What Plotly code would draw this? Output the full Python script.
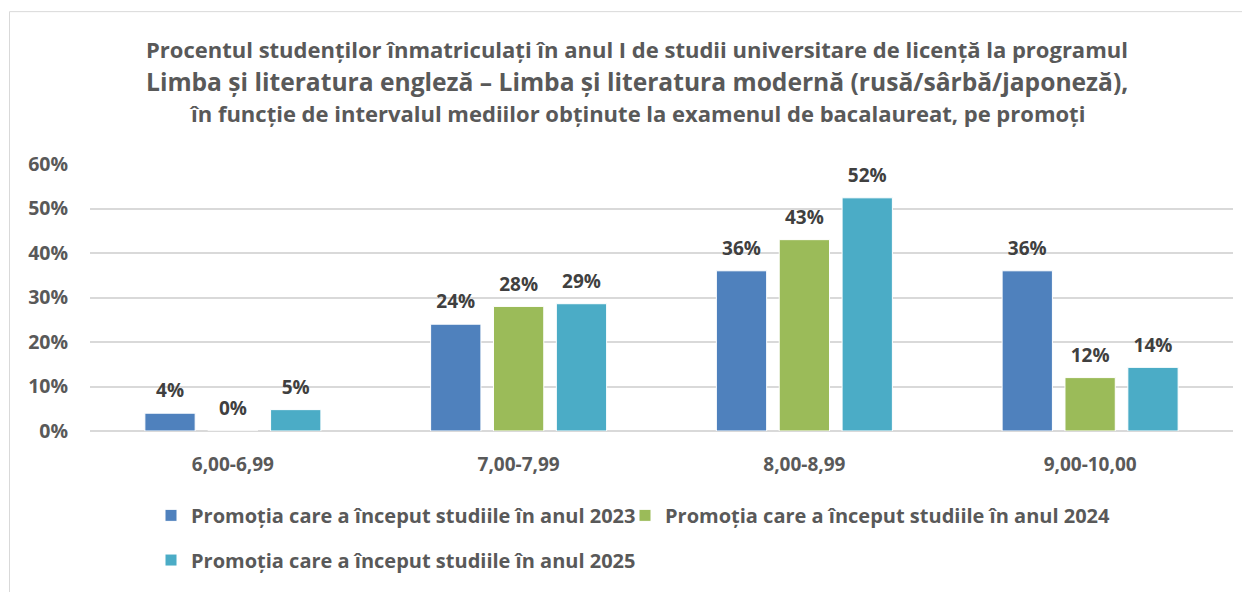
import plotly.graph_objects as go

categories = ["6,00-6,99", "7,00-7,99", "8,00-8,99", "9,00-10,00"]
series_names = [
    "Promoția care a început studiile în anul 2023",
    "Promoția care a început studiile în anul 2024",
    "Promoția care a început studiile în anul 2025",
]
values_2023 = [0.04, 0.24, 0.36, 0.36]
values_2024 = [0.00, 0.28, 0.43, 0.12]
values_2025 = [0.048, 0.286, 0.524, 0.143]
colors = ["#4F81BD", "#9BBB59", "#4BACC6"]
title_lines = [
    "Procentul studenților înmatriculați în anul I de studii universitare de licență la programul",
    "Limba și literatura engleză – Limba și literatura modernă (rusă/sârbă/japoneză),",
    "în funcție de intervalul mediilor obținute la examenul de bacalaureat, pe promoți",
]
y_ticks = [0, 0.1, 0.2, 0.3, 0.4, 0.5, 0.6]

FONT = "Open Sans"
# page is shown with an 8px body margin, so the figure is laid out in coords shifted by 8px
W, H = 1242, 584
L, R_EDGE, T, B_EDGE = 82, 1225, 156, 425
PW, PH = R_EDGE - L, B_EDGE - T


def px_x(x):
    return (x - L) / PW


def px_y(y):
    return (B_EDGE - y) / PH


fig = go.Figure()
legends = ["legend", "legend2", "legend3"]
all_values = [values_2023, values_2024, values_2025]
for i, (name, vals, col, lg) in enumerate(zip(series_names, all_values, colors, legends)):
    fig.add_trace(go.Bar(
        x=categories, y=vals, name=name, legend=lg,
        offsetgroup=str(i),
        marker=dict(color=col, line=dict(color="white", width=1)),
    ))
# data labels, grouped like the bars and lifted a little above each bar top
for i, vals in enumerate(all_values):
    fig.add_trace(go.Scatter(
        x=categories, y=vals, mode="markers+text", offsetgroup=str(i),
        marker=dict(size=16, opacity=0),
        text=[f"{v*100:.0f}%" for v in vals],
        textposition="top center",
        textfont=dict(family=FONT, size=19, color="#404040", weight="bold"),
        showlegend=False, hoverinfo="skip", cliponaxis=False,
    ))

legend_style = dict(
    orientation="h", xanchor="left", yanchor="middle",
    font=dict(family=FONT, size=20, color="#595959", weight="bold"),
    traceorder="normal", bgcolor="rgba(0,0,0,0)",
)

fig.update_layout(
    width=W, height=H,
    paper_bgcolor="white", plot_bgcolor="white",
    margin=dict(l=L, r=W - R_EDGE, t=T, b=H - B_EDGE),
    barmode="group", bargap=0.34, bargroupgap=0.2,
    scattermode="group", scattergap=0.34,
    font=dict(family=FONT, color="#595959"),
    showlegend=True,
    legend=dict(x=px_x(143), y=px_y(510), **legend_style),
    legend2=dict(x=px_x(617), y=px_y(510), **legend_style),
    legend3=dict(x=px_x(143), y=px_y(555), **legend_style),
)
fig.update_yaxes(
    range=[0, 0.6], tickvals=y_ticks, tickformat=".0%",
    showgrid=True, gridcolor="#D9D9D9", gridwidth=1.5,
    zeroline=True, zerolinecolor="#D9D9D9", zerolinewidth=1.5,
    showline=False, ticks="", ticklabelstandoff=21,
    tickfont=dict(family=FONT, size=19.5, color="#595959", weight="bold"),
)
fig.update_xaxes(
    showline=False, ticks="", ticklabelstandoff=20,
    tickfont=dict(family=FONT, size=19, color="#595959", weight="bold"),
)

title_y = [40, 73, 105]
title_sizes = [22, 24.6, 22]
for line, ypx, sz in zip(title_lines, title_y, title_sizes):
    fig.add_annotation(
        text=line, xref="paper", yref="paper",
        x=px_x(629), y=px_y(ypx),
        xanchor="center", yanchor="middle", showarrow=False,
        font=dict(family=FONT, size=sz, color="#595959", weight="bold"),
    )

# chart frame (left and top edges visible in the reference)
fig.add_shape(type="line", xref="paper", yref="paper",
              x0=px_x(1.5), x1=px_x(W + 5), y0=px_y(2.5), y1=px_y(2.5),
              line=dict(color="#D9D9D9", width=1))
fig.add_shape(type="line", xref="paper", yref="paper",
              x0=px_x(1.5), x1=px_x(1.5), y0=px_y(2.5), y1=px_y(H + 5),
              line=dict(color="#D9D9D9", width=1))

fig.write_html("out.html")
